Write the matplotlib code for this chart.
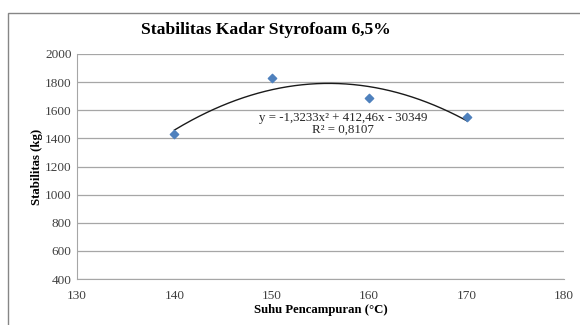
import numpy as np
import matplotlib.pyplot as plt
from matplotlib.patches import Rectangle

# data
suhu = [140, 150, 160, 170]
stabilitas = [1431, 1830, 1684, 1554]
x_ticks = [130, 140, 150, 160, 170, 180]
y_ticks = [400, 600, 800, 1000, 1200, 1400, 1600, 1800, 2000]

plt.rcParams['font.family'] = ['Liberation Serif', 'DejaVu Serif']

fig = plt.figure(figsize=(5.8, 3.25), dpi=100)
# outer chart frame, cut off at right/bottom like the screenshot
fig.patches.append(Rectangle((8 / 580, -0.05), 1.0, 1 - 13 / 325 + 0.05,
                             transform=fig.transFigure, fill=False,
                             edgecolor='#868686', linewidth=1.0))

ax = fig.add_axes([77 / 580, 1 - 279 / 325, 487 / 580, 225 / 325])

# polynomial trendline (order 2)
coef = np.polyfit(suhu, stabilitas, 2)
xs = np.linspace(min(suhu), max(suhu), 200)
ax.plot(xs, np.polyval(coef, xs), color='#1a1a1a', linewidth=1.0, zorder=2)
ax.scatter(suhu, stabilitas, marker='D', s=18, color='#4F81BD', zorder=3)

ax.set_xlim(130, 180)
ax.set_ylim(400, 2000)
ax.set_xticks(x_ticks)
ax.set_yticks(y_ticks)
ax.yaxis.grid(True, color='#a6a6a6', linewidth=0.9)
ax.set_axisbelow(True)
for s in ['top', 'right']:
    ax.spines[s].set_visible(False)
for s in ['left', 'bottom']:
    ax.spines[s].set_color('#a6a6a6')
ax.tick_params(length=0, labelsize=9.5, colors='#404040', pad=4)
ax.tick_params(axis='x', pad=8)

ax.set_xlabel('Suhu Pencampuran (°C)', fontsize=9.2, fontweight='bold', labelpad=1)
ax.set_ylabel('Stabilitas (kg)', fontsize=9.2, fontweight='bold', labelpad=1)

ax.text(157.3, 1506, 'y = -1,3233x² + 412,46x - 30349\nR² = 0,8107',
        fontsize=9.3, ha='center', va='center', color='#262626', linespacing=0.95)

fig.text(266 / 580, 1 - 30 / 325, 'Stabilitas Kadar Styrofoam 6,5%',
         fontsize=12.6, fontweight='bold', ha='center', va='center')

fig.savefig('out.png', dpi=100)
